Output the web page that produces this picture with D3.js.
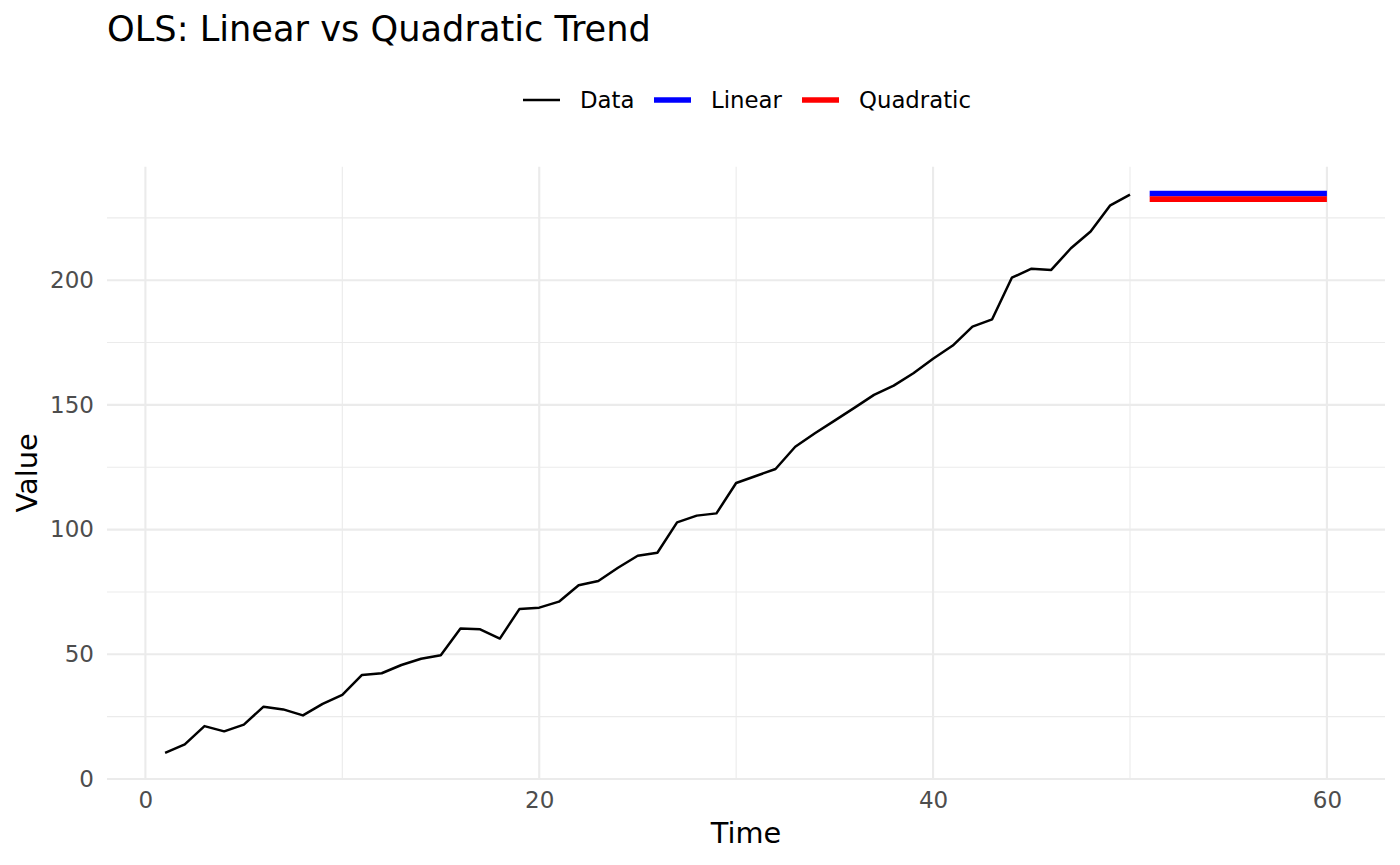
<!DOCTYPE html>
<html>
<head>
<meta charset="utf-8">
<script src="https://cdn.jsdelivr.net/npm/d3@7"></script>
<style>
  body { margin: 0; background: #fff; }
  text { font-family: "DejaVu Sans", sans-serif; }
</style>
</head>
<body>
<svg id="chart" width="1400" height="865"></svg>
<script>
const time = [1,2,3,4,5,6,7,8,9,10,11,12,13,14,15,16,17,18,19,20,21,22,23,24,25,26,27,28,29,30,31,32,33,34,35,36,37,38,39,40,41,42,43,44,45,46,47,48,49,50];
const values = [10.5,13.9,21.2,19.1,21.8,29.0,27.9,25.5,30.1,33.7,41.7,42.4,45.7,48.2,49.6,60.3,60.0,56.3,68.2,68.7,71.1,77.7,79.4,84.7,89.5,90.7,102.9,105.6,106.5,118.7,121.5,124.3,133.2,138.6,143.7,148.8,154.0,157.7,162.7,168.5,173.8,181.4,184.3,201.0,204.6,204.1,212.8,219.5,230.0,234.3];
const forecastTime = [51,52,53,54,55,56,57,58,59,60];
const linearForecast = [234.7,234.7,234.7,234.7,234.7,234.7,234.7,234.7,234.7,234.7];
const quadraticForecast = [232.5,232.5,232.5,232.5,232.5,232.5,232.5,232.5,232.5,232.5];
const xTicks = [0,20,40,60];
const xMinor = [10,30,50];
const yTicks = [0,50,100,150,200];
const yMinor = [25,75,125,175,225];
const legendLabels = ["Data","Linear","Quadratic"];
const legendColors = ["#000000","#0000ff","#ff0000"];

(function () {
const svg = d3.select("#chart");
const pLeft = 107, pRight = 1385, pTop = 166.7, pBottom = 779;
const x = d3.scaleLinear().domain([-1.95, 62.95]).range([pLeft, pRight]);
const y = d3.scaleLinear().domain([0, 245.5]).range([pBottom, pTop]);

const grid = svg.append("g");
grid.selectAll(".ymin").data(yMinor).join("line")
  .attr("x1", pLeft).attr("x2", pRight).attr("y1", d => y(d)).attr("y2", d => y(d))
  .attr("stroke", "#ebebeb").attr("stroke-width", 1.1);
grid.selectAll(".xmin").data(xMinor).join("line")
  .attr("y1", pTop).attr("y2", pBottom).attr("x1", d => x(d)).attr("x2", d => x(d))
  .attr("stroke", "#ebebeb").attr("stroke-width", 1.1);
grid.selectAll(".ymaj").data(yTicks).join("line")
  .attr("x1", pLeft).attr("x2", pRight).attr("y1", d => y(d)).attr("y2", d => y(d))
  .attr("stroke", "#ebebeb").attr("stroke-width", 2.1);
grid.selectAll(".xmaj").data(xTicks).join("line")
  .attr("y1", pTop).attr("y2", pBottom).attr("x1", d => x(d)).attr("x2", d => x(d))
  .attr("stroke", "#ebebeb").attr("stroke-width", 2.1);

const xAxis = svg.append("g").attr("transform", `translate(0,${pBottom})`)
  .call(d3.axisBottom(x).tickValues(xTicks).tickSize(0).tickPadding(13));
xAxis.select(".domain").remove();
xAxis.selectAll("text").attr("font-size", 23).attr("fill", "#4d4d4d").attr("font-family", "DejaVu Sans");
const yAxis = svg.append("g").attr("transform", `translate(${pLeft},0)`)
  .call(d3.axisLeft(y).tickValues(yTicks).tickSize(0).tickPadding(13));
yAxis.select(".domain").remove();
yAxis.selectAll("text").attr("font-size", 23).attr("fill", "#4d4d4d").attr("font-family", "DejaVu Sans");

const line = d3.line().x(d => x(d[0])).y(d => y(d[1]));
svg.append("path").datum(time.map((t, i) => [t, values[i]]))
  .attr("d", line).attr("fill", "none").attr("stroke", legendColors[0])
  .attr("stroke-width", 2.5).attr("stroke-linejoin", "round");
svg.append("path").datum(forecastTime.map((t, i) => [t, linearForecast[i]]))
  .attr("d", line).attr("fill", "none").attr("stroke", legendColors[1]).attr("stroke-width", 5.6);
svg.append("path").datum(forecastTime.map((t, i) => [t, quadraticForecast[i]]))
  .attr("d", line).attr("fill", "none").attr("stroke", legendColors[2]).attr("stroke-width", 5.6);

svg.append("text").attr("x", pLeft).attr("y", 41).attr("font-size", 35.2).attr("fill", "#000")
  .text("OLS: Linear vs Quadratic Trend");
svg.append("text").attr("x", (pLeft + pRight) / 2).attr("y", 843).attr("text-anchor", "middle")
  .attr("font-size", 28.8).attr("fill", "#000").text("Time");
svg.append("text").attr("transform", `translate(37,${(pTop + pBottom) / 2}) rotate(-90)`)
  .attr("text-anchor", "middle").attr("font-size", 28.8).attr("fill", "#000").text("Value");

const keyX = [523, 654, 802];
const lg = svg.append("g");
legendLabels.forEach((lab, i) => {
  lg.append("line").attr("x1", keyX[i]).attr("x2", keyX[i] + 37).attr("y1", 100).attr("y2", 100)
    .attr("stroke", legendColors[i]).attr("stroke-width", i === 0 ? 2.5 : 5.6);
  lg.append("text").attr("x", keyX[i] + 57).attr("y", 108).attr("font-size", 22.8).attr("fill", "#000").text(lab);
});
})();
</script>
</body>
</html>
